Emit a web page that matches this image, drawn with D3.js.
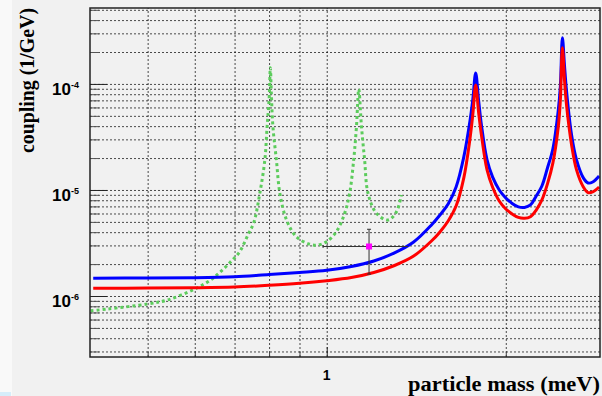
<!DOCTYPE html>
<html>
<head>
<meta charset="utf-8">
<script src="https://cdn.jsdelivr.net/npm/d3@7"></script>
<style>
  body { margin: 0; background: #f1f1f1; }
  svg { display: block; }
</style>
</head>
<body>
<div id="canvas"></div>
<script>
// values
const mass = [0.405, 0.5, 0.6, 0.7, 0.8, 0.9, 1.0, 1.1, 1.2, 1.3, 1.4, 1.5, 1.55, 1.6, 1.65, 1.7, 1.74, 1.76, 1.78, 1.80, 1.82, 1.86, 1.9, 1.95, 2.0, 2.05, 2.1, 2.15, 2.2, 2.25, 2.3, 2.35, 2.4, 2.45, 2.47, 2.49, 2.51, 2.53, 2.58, 2.63, 2.7, 2.75, 2.8, 2.87];
const blueCoupling = [1.469e-6, 1.479e-6, 1.489e-6, 1.521e-6, 1.596e-6, 1.667e-6, 1.748e-6, 1.899e-6, 2.14e-6, 2.55e-6, 3.23e-6, 4.68e-6, 5.81e-6, 7.38e-6, 1.067e-5, 2.05e-5, 4.38e-5, 7.06e-5, 1.27e-4, 7.06e-5, 4.10e-5, 1.92e-5, 1.327e-5, 1.0e-5, 8.41e-6, 7.46e-6, 6.92e-6, 6.84e-6, 7.22e-6, 8.78e-6, 1.09e-5, 1.61e-5, 2.45e-5, 5.6e-5, 9.4e-5, 2.72e-4, 1.5e-4, 8.6e-5, 3.30e-5, 1.92e-5, 1.30e-5, 1.164e-5, 1.189e-5, 1.356e-5];
const redCoupling = [1.182e-6, 1.189e-6, 1.197e-6, 1.216e-6, 1.262e-6, 1.318e-6, 1.394e-6, 1.495e-6, 1.667e-6, 1.94e-6, 2.38e-6, 3.30e-6, 4.02e-6, 5.10e-6, 7.06e-6, 1.30e-5, 2.96e-5, 5.10e-5, 9.78e-5, 5.44e-5, 3.30e-5, 1.545e-5, 1.067e-5, 7.87e-6, 6.62e-6, 5.94e-6, 5.51e-6, 5.41e-6, 5.60e-6, 6.47e-6, 8.05e-6, 1.14e-5, 1.80e-5, 3.9e-5, 6.9e-5, 2.19e-4, 1.1e-4, 6.3e-5, 2.66e-5, 1.545e-5, 1.067e-5, 9.44e-6, 9.58e-6, 1.067e-5];

const greenMass = [0.401, 0.428, 0.5, 0.54, 0.6, 0.638, 0.663, 0.69, 0.714, 0.737, 0.754, 0.772, 0.787, 0.794, 0.8, 0.804, 0.807, 0.812, 0.823, 0.834, 0.856, 0.889, 0.936, 0.967, 0.999, 1.038, 1.072, 1.093, 1.11, 1.122, 1.132, 1.144, 1.158, 1.173, 1.212, 1.268, 1.31, 1.335];
const greenCoupling = [7.26e-7, 7.54e-7, 8.41e-7, 9.17e-7, 1.164e-6, 1.416e-6, 1.695e-6, 2.11e-6, 2.62e-6, 3.76e-6, 4.92e-6, 9.37e-6, 1.92e-5, 3.96e-5, 7.06e-5, 1.42e-4, 8.22e-5, 3.96e-5, 1.92e-5, 9.37e-6, 5.21e-6, 3.62e-6, 3.08e-6, 3.03e-6, 3.25e-6, 4.04e-6, 6.03e-6, 9.37e-6, 1.92e-5, 3.96e-5, 8.91e-5, 3.96e-5, 1.92e-5, 9.37e-6, 6.03e-6, 5.21e-6, 6.24e-6, 8.97e-6];

const pointMass = [1.178];
const pointCoupling = [2.93e-6];
const pointMassRange = [[0.986, 1.370]];
const pointCouplingRange = [[1.61e-6, 4.26e-6]];

const xGridValues = [0.5, 0.6, 0.7, 0.8, 0.9, 1, 2];
const xMajorTicks = [1];
const xTickLabels = ["1"];
const yDecades = [-6, -5, -4];

const width = 602;
const height = 396;
const margin = { top: 8, left: 90, bottom: 39, right: 2 };
const iwidth = width - margin.left - margin.right;
const iheight = height - margin.top - margin.bottom;

const svg = d3.select("#canvas").append("svg")
  .attr("width", width)
  .attr("height", height);

svg.append("rect").attr("width", width).attr("height", height).style("fill", "#f1f1f1");
svg.append("rect").attr("width", 12).attr("height", height).style("fill", "#f9f9f9");
svg.append("rect").attr("y", 392).attr("width", 11).attr("height", 4).style("fill", "#d6edfa");

const g = svg.append("g").attr("transform", `translate(${margin.left},${margin.top})`);

const x = d3.scaleLog().domain([0.4, 2.88]).range([0, iwidth]);
const y = d3.scaleLog().domain([2.66e-7, 5.2e-4]).range([iheight, 0]);

// grid
g.append("g")
  .classed("y--grid", true)
  .call(d3.axisLeft(y).tickValues(y.ticks()).tickSize(-iwidth).tickFormat(""))
  .call(s => s.select(".domain").remove())
  .selectAll("line")
  .style("stroke", "#111").style("stroke-dasharray", "2,2").style("opacity", 0.75);

g.append("g")
  .classed("x--grid", true)
  .attr("transform", `translate(0,${iheight})`)
  .call(d3.axisBottom(x).tickValues(xGridValues).tickSize(-iheight).tickFormat(""))
  .call(s => s.select(".domain").remove())
  .selectAll("line")
  .style("stroke", "#111").style("stroke-dasharray", "2,2").style("opacity", 0.75);

// ticks
const decadeValues = yDecades.map(e => Math.pow(10, e));
const isDecade = v => decadeValues.some(d => Math.abs(v / d - 1) < 1e-6);
g.append("g")
  .call(d3.axisLeft(y).tickValues(y.ticks().filter(v => !isDecade(v))).tickSize(-9).tickFormat(""))
  .call(s => s.select(".domain").remove())
  .selectAll("line").style("stroke", "#555");
g.append("g")
  .call(d3.axisLeft(y).tickValues(decadeValues).tickSize(-17).tickFormat(""))
  .call(s => s.select(".domain").remove())
  .selectAll("line").style("stroke", "#222");

g.append("g")
  .attr("transform", `translate(0,${iheight})`)
  .call(d3.axisBottom(x).tickValues(xGridValues.filter(v => v !== 1)).tickSize(-5).tickFormat(""))
  .call(s => s.select(".domain").remove())
  .selectAll("line").style("stroke", "#444");
g.append("g")
  .attr("transform", `translate(0,${iheight})`)
  .call(d3.axisBottom(x).tickValues(xMajorTicks).tickSize(-10).tickFormat(""))
  .call(s => s.select(".domain").remove())
  .selectAll("line").style("stroke", "#222");

// tick labels
const labelFont = "'Liberation Sans', Arial, sans-serif";
xMajorTicks.forEach((v, i) => {
  g.append("text")
    .attr("x", x(v)).attr("y", iheight + 23)
    .attr("text-anchor", "middle")
    .style("font-family", labelFont).style("font-weight", "bold").style("font-size", "14px")
    .text(xTickLabels[i]);
});
yDecades.forEach(e => {
  const yy = y(Math.pow(10, e));
  g.append("text")
    .attr("x", -19).attr("y", yy + 11)
    .attr("text-anchor", "end")
    .style("font-family", labelFont).style("font-weight", "bold").style("font-size", "17px")
    .text("10");
  g.append("text")
    .attr("x", -19).attr("y", yy + 4)
    .style("font-family", labelFont).style("font-weight", "bold").style("font-size", "9px")
    .text(e);
});

// curves
const line = (ms, cs) => d3.line()
  .x(i => x(ms[i]))
  .y(i => y(cs[i]))
  .curve(d3.curveCatmullRom.alpha(0.5))(d3.range(ms.length));

g.append("path")
  .attr("d", line(greenMass, greenCoupling))
  .style("fill", "none").style("stroke", "#5ccc5c")
  .style("stroke-width", 3).style("stroke-dasharray", "3,3");

g.append("path")
  .attr("d", line(mass, blueCoupling))
  .style("fill", "none").style("stroke", "#0000ff").style("stroke-width", 3);

g.append("path")
  .attr("d", line(mass, redCoupling))
  .style("fill", "none").style("stroke", "#ff0000").style("stroke-width", 3);

// data point with error bars
pointMass.forEach((m, i) => {
  const px = x(m), py = y(pointCoupling[i]);
  const [c0, c1] = pointCouplingRange[i];
  const [m0, m1] = pointMassRange[i];
  const eb = g.append("g").style("stroke", "#333").style("stroke-width", 1);
  eb.append("line").attr("x1", x(m0)).attr("x2", x(m1)).attr("y1", py).attr("y2", py);
  eb.append("line").attr("x1", px).attr("x2", px).attr("y1", y(c0)).attr("y2", y(c1));
  eb.append("line").attr("x1", px - 2).attr("x2", px + 2).attr("y1", y(c0)).attr("y2", y(c0));
  eb.append("line").attr("x1", px - 2).attr("x2", px + 2).attr("y1", y(c1)).attr("y2", y(c1));
  eb.append("line").attr("x1", x(m0)).attr("x2", x(m0)).attr("y1", py - 1.5).attr("y2", py + 1.5);
  g.append("rect")
    .attr("x", px - 3).attr("y", py - 3).attr("width", 6).attr("height", 6)
    .style("fill", "#ff00ff");
});

// frame
g.append("rect")
  .attr("width", iwidth).attr("height", iheight)
  .style("fill", "none").style("stroke", "#222").style("stroke-width", 1.5);

// axis titles
const titleFont = "'Liberation Serif', 'Times New Roman', serif";
svg.append("text")
  .attr("transform", "translate(34,80.5) rotate(-90)")
  .attr("text-anchor", "middle")
  .attr("textLength", 145).attr("lengthAdjust", "spacingAndGlyphs")
  .style("font-family", titleFont).style("font-weight", "bold").style("font-size", "20px")
  .text("coupling (1/GeV)");
svg.append("text")
  .attr("x", 600).attr("y", 391)
  .attr("text-anchor", "end")
  .attr("textLength", 192).attr("lengthAdjust", "spacingAndGlyphs")
  .style("font-family", titleFont).style("font-weight", "bold").style("font-size", "20px")
  .text("particle mass (meV)");
</script>
</body>
</html>
